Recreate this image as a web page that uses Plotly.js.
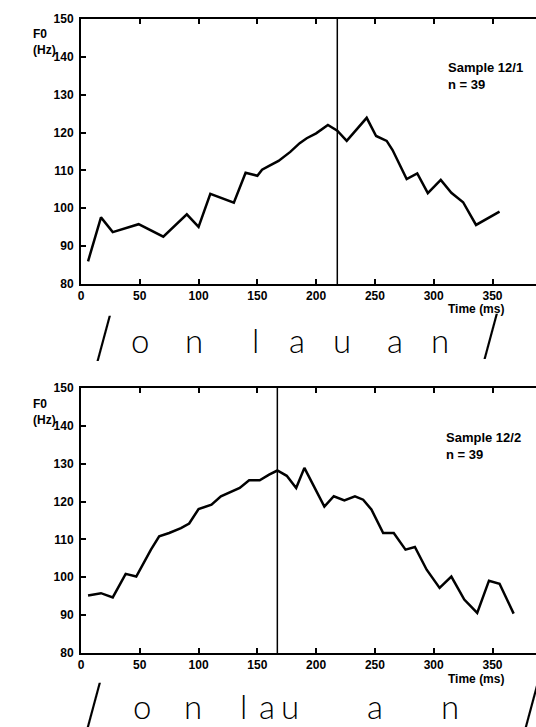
<!DOCTYPE html>
<html>
<head>
<meta charset="utf-8">
<script src="https://cdn.plot.ly/plotly-3.0.1.min.js"></script>
<style>html,body{margin:0;padding:0;background:#fff;}#chart{width:536px;height:727px;}</style>
</head>
<body>
<div id="chart"></div>
<script>
// ---- data ----
const time1 = [6, 17, 27, 49, 70, 90, 100, 110, 130, 140, 150, 154, 160, 168, 178, 186, 192, 200, 210, 218, 226, 243, 251, 260, 265, 277, 286, 295, 306, 315, 325, 336, 356];
const f0_1  = [86, 97.6, 93.7, 95.8, 92.5, 98.4, 95.1, 103.8, 101.5, 109.4, 108.6, 110.2, 111.2, 112.5, 114.9, 117.2, 118.5, 119.8, 122, 120.5, 117.8, 123.9, 119.1, 117.8, 115.4, 107.7, 109.2, 104, 107.5, 104.1, 101.6, 95.6, 99.1];
const time2 = [6, 17, 27, 38, 47, 59.5, 66.5, 75, 85, 92, 100, 111, 119, 127, 135, 143, 152, 160, 167, 175, 183, 190, 207, 215, 224, 233, 240, 247, 257, 266, 276, 284, 294, 305, 315, 326, 337, 347, 356, 368];
const f0_2  = [95.2, 95.8, 94.7, 100.9, 100.2, 107.3, 110.8, 111.7, 113, 114.2, 118, 119.2, 121.4, 122.6, 123.6, 125.6, 125.6, 127.1, 128.2, 126.8, 123.6, 128.9, 118.7, 121.4, 120.3, 121.4, 120.5, 117.9, 111.7, 111.7, 107.3, 108, 102, 97.2, 100.2, 94.1, 90.6, 99.1, 98.3, 90.4];
const boundary1 = 218;   // vertical marker, sample 12/1 (ms)
const boundary2 = 167;   // vertical marker, sample 12/2 (ms)
const sampleLabels = ["Sample 12/1<br>n = 39", "Sample 12/2<br>n = 39"];
const xTicks = [0, 50, 100, 150, 200, 250, 300, 350];
const yTicks = [80, 90, 100, 110, 120, 130, 140, 150];
const phon1 = ["o", "n", "l", "a", "u", "a", "n"];
const phon2 = ["o", "n", "l", "a", "u", "a", "n"];

// ---- layout helpers (pixel -> paper) ----
const X0 = 81, W = 455, H = 727;
const px = x => (x - X0) / W;
const py = y => 1 - y / H;

const tickFont = {family: "Liberation Sans, Arial, sans-serif", size: 12, color: "#000", weight: "bold"};
const lblFont = {family: "Liberation Sans, Arial, sans-serif", size: 12, color: "#000", weight: "bold"};
const phonFont = {family: "Lato, Roboto, sans-serif", size: 33, color: "#000", weight: 300};
const slashFont = {family: "Inter, Lato, sans-serif", size: 52, color: "#000", weight: 200};

function xax(anchor) {
  return {anchor: anchor, domain: [0, 1], range: [0, 387], tickvals: xTicks, ticktext: xTicks.map(String),
    ticks: "inside", ticklen: 5, tickwidth: 2, tickcolor: "#000", showline: true, linewidth: 2, linecolor: "#000",
    mirror: "ticks", showgrid: false, zeroline: false, tickfont: tickFont, fixedrange: true};
}
function yax(anchor, dom) {
  return {anchor: anchor, domain: dom, range: [80, 150], tickvals: yTicks, ticktext: yTicks.map(String),
    ticks: "inside", ticklen: 5, tickwidth: 2, tickcolor: "#000", showline: true, linewidth: 2, linecolor: "#000",
    mirror: false, showgrid: false, zeroline: false, tickfont: tickFont, ticklabelstandoff: 3, fixedrange: true};
}

const traces = [
  {x: time1, y: f0_1, xaxis: "x", yaxis: "y", mode: "lines", line: {color: "#000", width: 2.5}, hoverinfo: "skip", showlegend: false},
  {x: time2, y: f0_2, xaxis: "x2", yaxis: "y2", mode: "lines", line: {color: "#000", width: 2.5}, hoverinfo: "skip", showlegend: false}
];

const annotations = [];
function txt(text, x, y, font, xanchor, yanchor, align) {
  annotations.push({text: text, xref: "paper", yref: "paper", x: px(x), y: py(y), xanchor: xanchor, yanchor: yanchor,
    align: align || "left", showarrow: false, font: font, borderpad: 0});
}
// axis title blocks
txt("F0<br>(Hz)", 32, 26, lblFont, "left", "top");
txt("F0<br>(Hz)", 32, 396, lblFont, "left", "top");
txt(sampleLabels[0], 447, 59, {...lblFont, size: 13}, "left", "top");
txt(sampleLabels[1], 445, 429, {...lblFont, size: 13}, "left", "top");
txt("Time (ms)", 476, 309, lblFont, "center", "middle", "center");
txt("Time (ms)", 476, 679, lblFont, "center", "middle", "center");
// phonemic transcription
const pos1 = [140, 194, 255, 297, 342, 395, 440];
const pos2 = [142, 193, 243, 267, 290, 375, 450];
phon1.forEach((c, i) => txt(c, pos1[i], 340, phonFont, "center", "middle", "center"));
phon2.forEach((c, i) => txt(c, pos2[i], 705.5, phonFont, "center", "middle", "center"));
txt("/", 103, 336.5, slashFont, "center", "middle", "center");
txt("/", 490.5, 334, slashFont, "center", "middle", "center");
txt("/", 93, 703, slashFont, "center", "middle", "center");
txt("/", 531, 703, slashFont, "center", "middle", "center");

const layout = {
  width: 536, height: 727,
  margin: {l: X0, r: 0, t: 0, b: 0, pad: 0},
  paper_bgcolor: "#fff", plot_bgcolor: "#fff",
  showlegend: false,
  xaxis: xax("y"),
  yaxis: yax("x", [py(284), py(19)]),
  xaxis2: xax("y2"),
  yaxis2: yax("x2", [py(653), py(388)]),
  shapes: [
    {type: "line", xref: "x", yref: "y domain", x0: boundary1, x1: boundary1, y0: 0, y1: 1, line: {color: "#000", width: 1.5}},
    {type: "line", xref: "x2", yref: "y2 domain", x0: boundary2, x1: boundary2, y0: 0, y1: 1, line: {color: "#000", width: 1.5}}
  ],
  annotations: annotations
};

Plotly.newPlot("chart", traces, layout, {staticPlot: true, displayModeBar: false});
</script>
</body>
</html>
